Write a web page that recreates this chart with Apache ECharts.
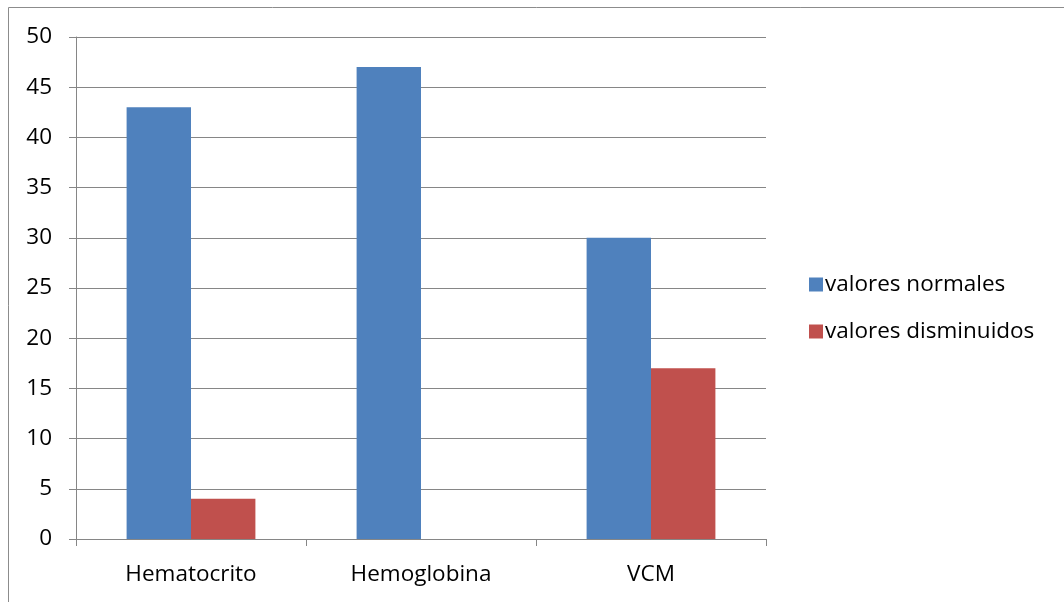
<!DOCTYPE html>
<html>
<head>
<meta charset="utf-8">
<script src="https://cdn.jsdelivr.net/npm/echarts@6/dist/echarts.min.js"></script>
<style>
  html, body { margin: 0; padding: 0; background: #ffffff; }
  #chart { width: 1064px; height: 602px; }
</style>
</head>
<body>
<div id="chart"></div>
<script>
// Parámetros hematológicos y número de casos por grupo
const categories = ['Hematocrito', 'Hemoglobina', 'VCM'];
const valoresNormales = [43, 47, 30];
const valoresDisminuidos = [4, 0, 17];
const yTicks = { min: 0, max: 50, interval: 5 };

const FONT = '"Open Sans", "Noto Sans", sans-serif';
const AXIS_GRAY = '#868686';

const chart = echarts.init(document.getElementById('chart'), null, { renderer: 'canvas' });

chart.setOption({
  backgroundColor: '#ffffff',
  animation: false,
  textStyle: { fontFamily: FONT },
  graphic: [{
    type: 'rect',
    shape: { x: 8.5, y: 7.5, width: 1100, height: 700 },
    style: { fill: 'none', stroke: '#8c8c8c', lineWidth: 1 },
    silent: true
  }],
  grid: { left: 76, right: 298, top: 37, bottom: 63, containLabel: false },
  legend: {
    orient: 'vertical',
    left: 804,
    top: 268,
    itemWidth: 14,
    itemHeight: 14,
    itemGap: 24,
    icon: 'rect',
    textStyle: { fontFamily: FONT, fontSize: 22.5, color: '#000000', padding: [0, 0, 0, -3] },
    data: ['valores normales', 'valores disminuidos']
  },
  xAxis: {
    type: 'category',
    data: categories,
    axisLine: { show: true, lineStyle: { color: AXIS_GRAY, width: 1 } },
    axisTick: { show: true, length: 7, lineStyle: { color: AXIS_GRAY } },
    axisLabel: { fontFamily: FONT, fontSize: 22.5, color: '#000000', margin: 24 },
    splitLine: { show: false }
  },
  yAxis: {
    type: 'value',
    min: yTicks.min,
    max: yTicks.max,
    interval: yTicks.interval,
    axisLine: { show: true, lineStyle: { color: AXIS_GRAY, width: 1 } },
    axisTick: { show: true, length: 7, lineStyle: { color: AXIS_GRAY } },
    axisLabel: { fontFamily: FONT, fontSize: 22.5, color: '#000000', margin: 24 },
    splitLine: { show: true, lineStyle: { color: AXIS_GRAY, width: 1 } }
  },
  series: [
    {
      name: 'valores normales',
      type: 'bar',
      data: valoresNormales,
      barGap: '0%',
      barCategoryGap: '44%',
      itemStyle: { color: '#4f81bd' }
    },
    {
      name: 'valores disminuidos',
      type: 'bar',
      data: valoresDisminuidos,
      barGap: '0%',
      barCategoryGap: '44%',
      itemStyle: { color: '#c0504d' }
    }
  ]
});
</script>
</body>
</html>
